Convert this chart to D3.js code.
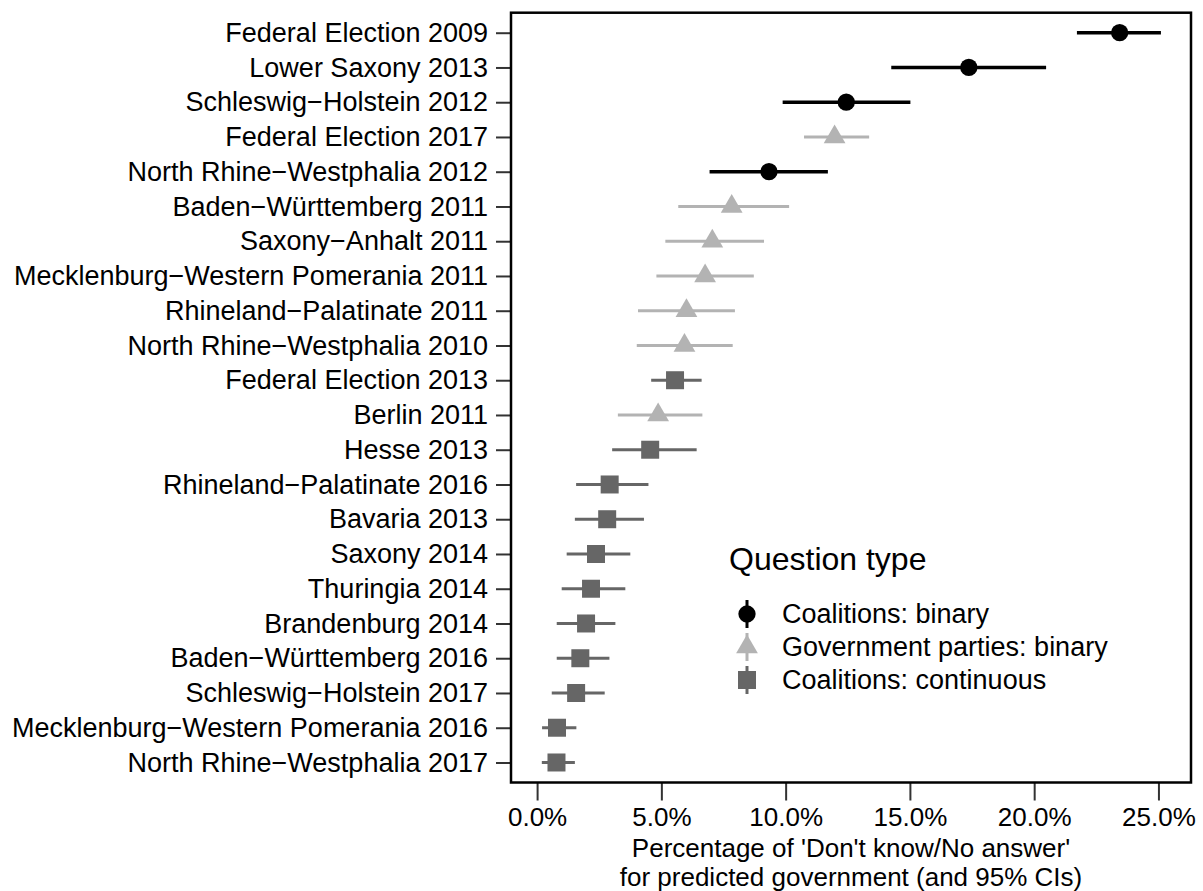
<!DOCTYPE html>
<meta charset="UTF-8">

<head>
    <script src="https://d3js.org/d3.v7.min.js"></script>
    <style>
        body {
            margin: 0;
            background: #fff;
        }

        text {
            font-family: "Liberation Sans", Arial, sans-serif;
            fill: #000;
        }
    </style>
</head>

<body>

    <script>
        // elections, top to bottom
        var elections = [
            "Federal Election 2009",
            "Lower Saxony 2013",
            "Schleswig\u2212Holstein 2012",
            "Federal Election 2017",
            "North Rhine\u2212Westphalia 2012",
            "Baden\u2212W\u00fcrttemberg 2011",
            "Saxony\u2212Anhalt 2011",
            "Mecklenburg\u2212Western Pomerania 2011",
            "Rhineland\u2212Palatinate 2011",
            "North Rhine\u2212Westphalia 2010",
            "Federal Election 2013",
            "Berlin 2011",
            "Hesse 2013",
            "Rhineland\u2212Palatinate 2016",
            "Bavaria 2013",
            "Saxony 2014",
            "Thuringia 2014",
            "Brandenburg 2014",
            "Baden\u2212W\u00fcrttemberg 2016",
            "Schleswig\u2212Holstein 2017",
            "Mecklenburg\u2212Western Pomerania 2016",
            "North Rhine\u2212Westphalia 2017"
        ];

        // percentage "don't know" and 95% CI bounds
        var estimate = [23.44, 17.37, 12.44, 11.97, 9.33, 7.83, 7.05, 6.76, 6.01, 5.93, 5.55,
            4.87, 4.55, 2.92, 2.82, 2.37, 2.17, 1.97, 1.74, 1.57, 0.80, 0.78];
        var lower = [21.72, 14.25, 9.88, 10.74, 6.94, 5.68, 5.16, 4.80, 4.06, 4.01, 4.59,
            3.25, 3.02, 1.57, 1.52, 1.19, 0.99, 0.79, 0.79, 0.59, 0.20, 0.19];
        var upper = [25.10, 20.48, 15.02, 13.36, 11.70, 10.14, 9.13, 8.72, 7.96, 7.87, 6.62,
            6.65, 6.42, 4.48, 4.30, 3.75, 3.55, 3.15, 2.91, 2.72, 1.58, 1.52];
        // 0 = coalitions binary, 1 = government parties binary, 2 = coalitions continuous
        var qtype = [0, 0, 0, 1, 0, 1, 1, 1, 1, 1, 2, 1, 2, 2, 2, 2, 2, 2, 2, 2, 2, 2];

        var typeNames = ["Coalitions: binary", "Government parties: binary", "Coalitions: continuous"];
        var typeColors = ["#000000", "#b3b3b3", "#666666"];
        var xTicks = [0, 5, 10, 15, 20, 25];

        var rows = elections.map(function (d, i) {
            return { name: d, est: estimate[i], lo: lower[i], hi: upper[i], type: qtype[i] };
        });

        var W = 1203, H = 891;
        var plot = { left: 511, right: 1191, top: 12.7, bottom: 782.5 };

        var svg = d3.select("body").append("svg")
            .attr("width", W)
            .attr("height", H);

        var x = d3.scaleLinear()
            .domain([-1.05, 26.31])
            .range([plot.left, plot.right]);

        var y = d3.scalePoint()
            .domain(elections)
            .range([plot.top, plot.bottom])
            .padding(0.576);

        var symbols = [
            d3.symbol().type(d3.symbolCircle).size(235),
            d3.symbol().type(d3.symbolTriangle).size(205),
            d3.symbol().type(d3.symbolSquare).size(324)
        ];

        // y axis
        var yAxis = svg.append("g")
            .attr("transform", "translate(" + plot.left + ",0)")
            .call(d3.axisLeft(y).tickSize(15).tickPadding(8));
        yAxis.select(".domain").remove();
        yAxis.selectAll(".tick line").attr("stroke", "#333").attr("stroke-width", 2);
        yAxis.selectAll(".tick text")
            .style("font-size", "27px")
            .style("font-family", "'Liberation Sans', Arial, sans-serif")
            .attr("fill", "#000");

        // x axis
        var xAxis = svg.append("g")
            .attr("transform", "translate(0," + plot.bottom + ")")
            .call(d3.axisBottom(x).tickValues(xTicks).tickSize(18).tickPadding(7)
                .tickFormat(function (d) { return d.toFixed(1) + "%"; }));
        xAxis.select(".domain").remove();
        xAxis.selectAll(".tick line").attr("stroke", "#333").attr("stroke-width", 2);
        xAxis.selectAll(".tick text")
            .style("font-size", "26px")
            .style("font-family", "'Liberation Sans', Arial, sans-serif")
            .attr("fill", "#000");

        // confidence intervals
        svg.append("g").selectAll("line")
            .data(rows)
            .enter()
            .append("line")
            .attr("x1", function (d) { return x(d.lo); })
            .attr("x2", function (d) { return x(d.hi); })
            .attr("y1", function (d) { return y(d.name); })
            .attr("y2", function (d) { return y(d.name); })
            .attr("stroke", function (d) { return typeColors[d.type]; })
            .attr("stroke-width", function (d) { return d.type === 0 ? 3.5 : 3; });

        // point estimates
        svg.append("g").selectAll("path")
            .data(rows)
            .enter()
            .append("path")
            .attr("d", function (d) { return symbols[d.type](); })
            .attr("transform", function (d) {
                return "translate(" + x(d.est) + "," + y(d.name) + ")";
            })
            .attr("fill", function (d) { return typeColors[d.type]; });

        // panel border
        svg.append("rect")
            .attr("x", plot.left)
            .attr("y", plot.top)
            .attr("width", plot.right - plot.left)
            .attr("height", plot.bottom - plot.top)
            .attr("fill", "none")
            .attr("stroke", "#000")
            .attr("stroke-width", 2.5);

        // x axis title, two lines
        var titleLines = ["Percentage of 'Don't know/No answer'", "for predicted government (and 95% CIs)"];
        svg.selectAll("text.xtitle")
            .data(titleLines)
            .enter()
            .append("text")
            .attr("class", "xtitle")
            .attr("text-anchor", "middle")
            .attr("x", (plot.left + plot.right) / 2)
            .attr("y", function (d, i) { return 857 + i * 28.5; })
            .style("font-size", "26px")
            .text(function (d) { return d; });

        // legend
        var legend = svg.append("g");
        legend.append("text")
            .attr("x", 729)
            .attr("y", 570)
            .style("font-size", "32px")
            .text("Question type");

        var item = legend.selectAll("g.item")
            .data(typeNames)
            .enter()
            .append("g")
            .attr("class", "item")
            .attr("transform", function (d, i) {
                return "translate(747," + (614 + i * 33) + ")";
            });

        item.append("line")
            .attr("y1", -14)
            .attr("y2", 14)
            .attr("stroke", function (d, i) { return typeColors[i]; })
            .attr("stroke-width", 3);

        item.append("path")
            .attr("d", function (d, i) { return symbols[i](); })
            .attr("fill", function (d, i) { return typeColors[i]; });

        item.append("text")
            .attr("x", 35)
            .attr("dy", "0.35em")
            .style("font-size", "27px")
            .text(function (d) { return d; });
    </script>

</body>
